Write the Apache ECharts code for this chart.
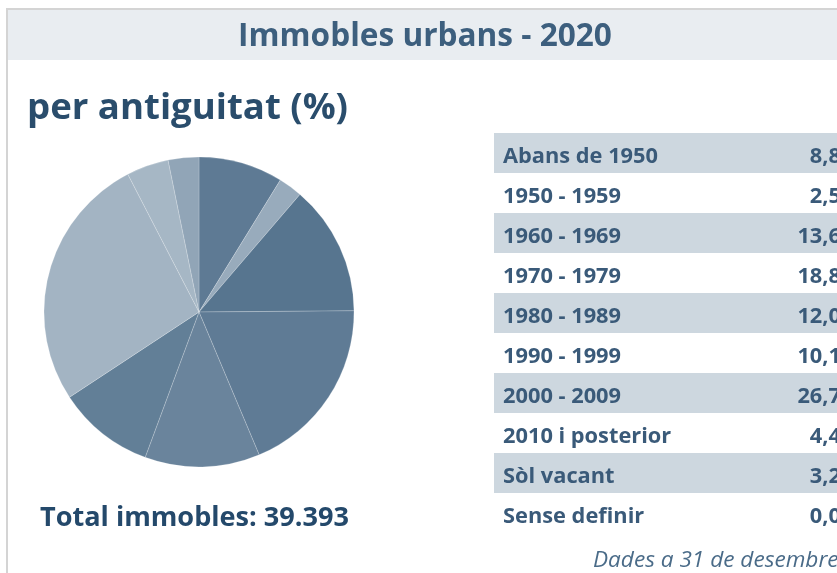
<!DOCTYPE html>
<html>
<head>
<meta charset="utf-8">
<script src="https://cdn.jsdelivr.net/npm/echarts@6/dist/echarts.min.js"></script>
<style>
  html, body { margin: 0; padding: 0; background: #fff; }
  #main { width: 837px; height: 573px; }
</style>
</head>
<body>
<div id="main"></div>
<script>
// periods, shares (%) and slice colours, in the order they sit in the pie (clockwise from 12h)
const categories = ['Abans de 1950', '1950 - 1959', '1960 - 1969', '1970 - 1979', '1980 - 1989',
  '1990 - 1999', '2000 - 2009', '2010 i posterior', 'Sòl vacant', 'Sense definir'];
const shares = [8.8, 2.5, 13.6, 18.8, 12.0, 10.1, 26.7, 4.4, 3.2, 0.0];
const sliceColors = ['#5e7a94', '#98abbc', '#57758f', '#5f7b95', '#6a849c',
  '#627f97', '#a3b4c3', '#a6b7c5', '#91a5b7', '#b0bfcc'];

const titleText = 'Immobles urbans - 2020';
const subtitleText = 'per antiguitat (%)';
const totalText = 'Total immobles: 39.393';
const noteText = 'Dades a 31 de desembre';

const FONT = '"Open Sans", "Noto Sans", sans-serif';
const fmt = v => v.toFixed(1).replace('.', ',');

// pick a font size so that a text spans roughly the width it has in the picture
const ctx = document.createElement('canvas').getContext('2d');
function fitSize(text, style, width) {
  ctx.font = style + ' 100px ' + FONT;
  return Math.round(100 * width / ctx.measureText(text).width * 10) / 10;
}
const titleSize = fitSize(titleText, 'bold', 374);
const subSize = fitSize(subtitleText, 'bold', 321);
const totalSize = fitSize(totalText, 'bold', 309);
const rowSize = fitSize('Abans de 1950', 'bold', 155);
const noteSize = fitSize(noteText, 'italic', 246);

const chartDom = document.getElementById('main');
const myChart = echarts.init(chartDom, null, { renderer: 'canvas' });

// table rows
const rowTop = 133, rowH = 40;
const tableGraphics = [];
categories.forEach((name, i) => {
  const y = rowTop + i * rowH;
  if (i % 2 === 0) {
    tableGraphics.push({
      type: 'rect', shape: { x: 494, y: y, width: 360, height: rowH },
      style: { fill: '#cdd7df' }, silent: true
    });
  }
  tableGraphics.push({
    type: 'text', x: 503, y: y + rowH / 2 + 4,
    style: { text: name, fill: '#3a5a79', font: 'bold ' + rowSize + 'px ' + FONT, textVerticalAlign: 'middle' }
  });
  tableGraphics.push({
    type: 'text', x: 841, y: y + rowH / 2 + 4,
    style: { text: fmt(shares[i]), fill: '#3a5a79', font: 'bold ' + rowSize + 'px ' + FONT,
      textAlign: 'right', textVerticalAlign: 'middle' }
  });
});

const option = {
  animation: false,
  graphic: [
    // frame
    { type: 'rect', shape: { x: 7, y: 9, width: 840, height: 600 },
      style: { fill: '#fff', stroke: '#d4d4d4', lineWidth: 2 }, silent: true },
    { type: 'rect', shape: { x: 8, y: 10, width: 840, height: 50 },
      style: { fill: '#e9edf1' }, silent: true },
    { type: 'text', x: 425, y: 37,
      style: { text: titleText, fill: '#3d5f7e', font: 'bold ' + titleSize + 'px ' + FONT,
        textAlign: 'center', textVerticalAlign: 'middle' } },
    { type: 'text', x: 27, y: 109,
      style: { text: subtitleText, fill: '#2a4d6c', font: 'bold ' + subSize + 'px ' + FONT,
        textVerticalAlign: 'middle' } },
    { type: 'text', x: 40, y: 518,
      style: { text: totalText, fill: '#24496b', font: 'bold ' + totalSize + 'px ' + FONT,
        textVerticalAlign: 'middle' } },
    { type: 'text', x: 593, y: 561,
      style: { text: noteText, fill: '#4a6b88', font: 'italic ' + noteSize + 'px ' + FONT,
        textVerticalAlign: 'middle' } }
  ].concat(tableGraphics),
  series: [
    {
      type: 'pie',
      center: [199, 312],
      radius: 155,
      startAngle: 90,
      clockwise: true,
      label: { show: false },
      labelLine: { show: false },
      emphasis: { disabled: true },
      itemStyle: { borderColor: 'rgba(255,255,255,0.2)', borderWidth: 1 },
      data: categories
        .map((name, i) => ({ name: name, value: shares[i], itemStyle: { color: sliceColors[i] } }))
        .filter(d => d.value > 0)
    }
  ]
};

myChart.setOption(option);
</script>
</body>
</html>
